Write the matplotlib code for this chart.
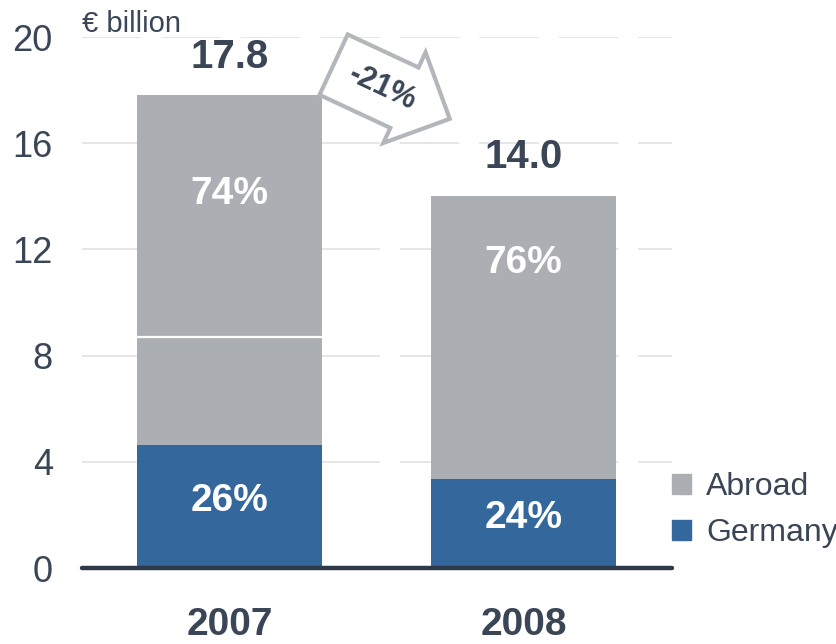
"""
Stacked bars: sales split Germany / abroad, 2007 vs 2008
"""

import matplotlib as mpl
mpl.use("Agg")
import matplotlib.pyplot as plt
from matplotlib.patches import Patch

plt.rcParams["font.family"] = ["Liberation Sans", "DejaVu Sans"]

years = ["2007", "2008"]
totals = [17.8, 14.0]
germany_share = [26, 24]
abroad_share = [74, 76]
split_2007 = 8.7  # internal boundary inside the 2007 abroad block
change_label = "-21%"
yticks = [0, 4, 8, 12, 16, 20]

# how far below the bar top the abroad share sits
abroad_label_drop = [3.7, 2.5]

DARK = "#3a4556"
GREY = "#abafb3"
BLUE = "#34679b"

def main():
    germany = [t * g / 100 for t, g in zip(totals, germany_share)]
    abroad = [t - g for t, g in zip(totals, germany)]
    xs = list(range(len(years)))

    fig = plt.figure(figsize=(8.37, 6.44), dpi=100)
    ax = fig.add_axes([0.098, 0.118, 0.705, 0.8245])

    for y in yticks[1:]:
        ax.axhline(y, color="#e2e4e6", lw=1.3, ls=(0, (33, 11)), zorder=0)

    width = 0.63
    ax.bar(xs, germany, width, color=BLUE, zorder=2)
    ax.bar(xs, abroad, width, bottom=germany, color=GREY, zorder=2)
    ax.hlines(split_2007, xs[0] - width / 2, xs[0] + width / 2,
              color="white", lw=1.6, zorder=3)

    for x, g, t, gs, as_, drop in zip(xs, germany, totals, germany_share,
                                      abroad_share, abroad_label_drop):
        ax.text(x, g / 2 + 0.2, f"{gs}%", ha="center", va="center", color="white",
                fontsize=28, fontweight="bold", zorder=4)
        ax.text(x, t - drop, f"{as_}%", ha="center", va="center", color="white",
                fontsize=28, fontweight="bold", zorder=4)
        ax.text(x, t + 0.75, f"{t:.1f}", ha="center", va="bottom", color=DARK,
                fontsize=29, fontweight="bold", zorder=4)
        ax.text(x, -2.15, years[x], ha="center", va="center", color=DARK,
                fontsize=28, fontweight="bold")

    # change arrow between the two bars
    ax.text(0.52, 18.1, change_label, ha="center", va="center", rotation=-25,
            rotation_mode="anchor", color=DARK, fontsize=22, fontweight="bold",
            bbox=dict(boxstyle="rarrow,pad=0.6", fc="white", ec="#b3b7bb", lw=3),
            zorder=5)

    ax.text(-0.502, 20.2, "€ billion", ha="left", va="baseline", color=DARK, fontsize=21)

    ax.set_xlim(-0.502, 1.505)
    ax.set_ylim(0, 20)
    ax.set_yticks(yticks)
    ax.set_yticklabels([str(v) for v in yticks], fontsize=26, color=DARK)
    ax.tick_params(axis="y", length=0, pad=21)
    ax.set_xticks([])
    for side in ["top", "right", "left"]:
        ax.spines[side].set_visible(False)
    ax.spines["bottom"].set_color("#2e3a4a")
    ax.spines["bottom"].set_linewidth(3.2)
    ax.spines["bottom"].set_capstyle("round")

    handles = [Patch(color=GREY, label="Abroad"), Patch(color=BLUE, label="Germany")]
    fig.legend(handles=handles, loc="center left", bbox_to_anchor=(0.803, 0.208),
               frameon=False, fontsize=23, labelcolor=DARK, handlelength=0.6,
               handleheight=0.6, handletextpad=0.47, labelspacing=0.5,
               borderpad=0, borderaxespad=0)

    fig.savefig("out.png", dpi=100)

if __name__ == "__main__": main()
